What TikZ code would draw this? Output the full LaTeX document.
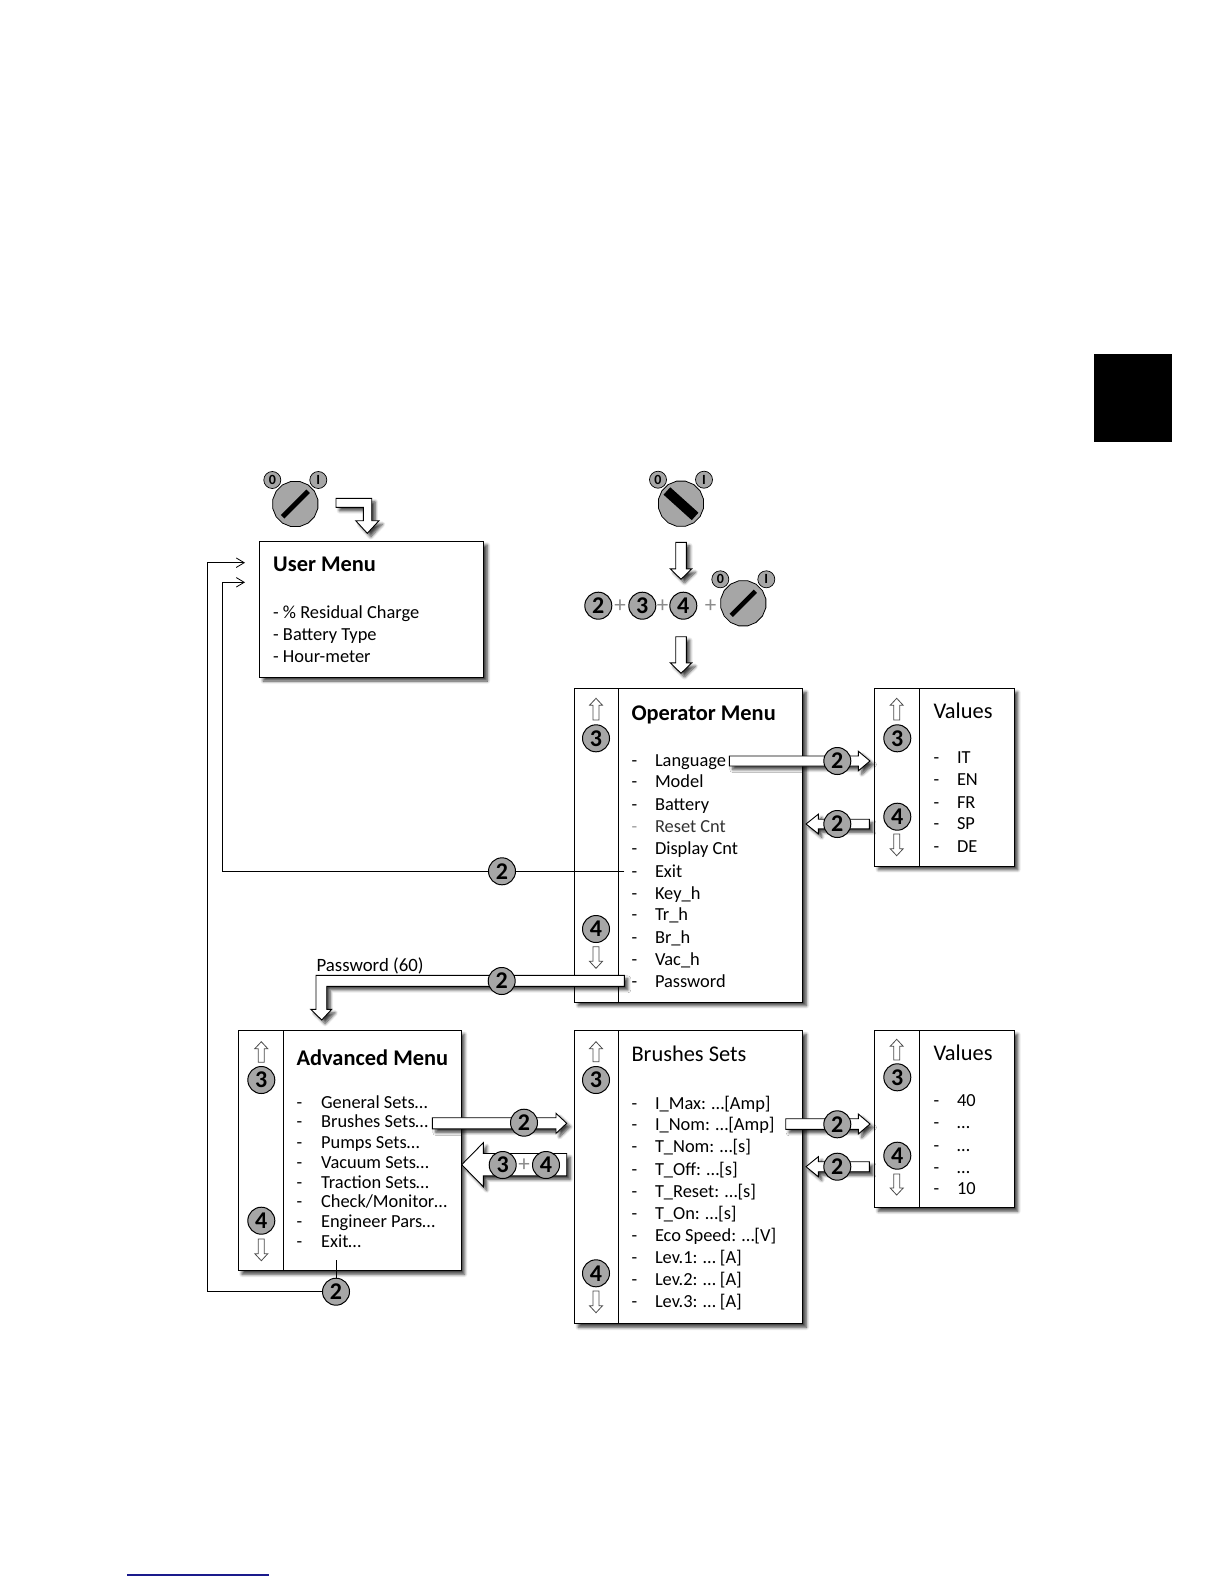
\documentclass[tikz,border=0pt]{standalone}
\usepackage{fontspec}
\setmainfont{Carlito}
\usepackage{xcolor}
\usetikzlibrary{calc, shapes.geometric, positioning, shadows, shadows.blur, arrows.meta}

\definecolor{btngray}{HTML}{A6A6A6}
\definecolor{linkblue}{HTML}{1A1A8C}

\tikzset{
    softshadow/.style={blur shadow={shadow xshift=3.5pt, shadow yshift=-3.5pt, shadow blur steps=6, shadow blur radius=3pt, shadow opacity=75}},
    menubox/.style={draw=black, line width=1pt, fill=white, anchor=north west, inner sep=0pt, softshadow},
    blockarrow/.style={draw=black, line width=0.9pt, fill=white, softshadow},
    markarrow/.style={draw=black!70, line width=0.8pt, fill=white},
    btn/.style={circle, draw=black, line width=1pt, fill=btngray, minimum size=27pt, inner sep=0pt, font=\fontsize{24}{24}\selectfont\bfseries},
    knob/.style={circle, draw=black, line width=0.7pt, fill=btngray, minimum size=17pt, inner sep=0pt, font=\fontsize{14}{14}\selectfont\bfseries},
    dial/.style={regular polygon, regular polygon sides=16, draw=black, line width=0.8pt, fill=btngray, minimum size=46pt, inner sep=0pt},
    plusmark/.style={inner sep=0pt, text=black!45, font=\fontsize{23}{23}\selectfont},
    headbold/.style={anchor=base west, inner sep=0pt, font=\fontsize{22.4}{22.4}\selectfont\bfseries},
    headplain/.style={anchor=base west, inner sep=0pt, font=\fontsize{22.4}{22.4}\selectfont},
    itemtext/.style={anchor=base west, inner sep=0pt, font=\fontsize{18.4}{18.4}\selectfont},
}

% voce di menu: trattino + testo
\newcommand{\itm}[1]{\makebox[23.5pt][l]{-}#1}
% lista di voci: prefisso, x, {y/testo,...}
\newcommand{\menuitems}[3]{\foreach \y/\t [count=\i] in {#3} \node[itemtext] (#1\i) at (#2,\y+6.1) {\t};}
% freccette di scorrimento: x, y alto, y basso
\newcommand{\upmark}[3]{\draw[markarrow] (#1-3,#3) -- (#1-3,#2+7) -- (#1-6.5,#2+7) -- (#1,#2) -- (#1+6.5,#2+7) -- (#1+3,#2+7) -- (#1+3,#3) -- cycle;}
\newcommand{\downmark}[3]{\draw[markarrow] (#1-3,#2) -- (#1-3,#3-7) -- (#1-6.5,#3-7) -- (#1,#3) -- (#1+6.5,#3-7) -- (#1+3,#3-7) -- (#1+3,#2) -- cycle;}
% freccia larga orizzontale: da, a, mezzo gambo, testa, mezza testa
\newcommand{\hblock}[5]{\draw[blockarrow] let \p1=(#1), \p2=(#2) in (\x1,\y1+#3pt) -- (\x2-#4pt,\y1+#3pt) -- (\x2-#4pt,\y1+#5pt) -- (\x2,\y1) -- (\x2-#4pt,\y1-#5pt) -- (\x2-#4pt,\y1-#3pt) -- (\x1,\y1-#3pt) -- cycle;}
% freccia larga verticale (verso il basso)
\newcommand{\vblock}[5]{\draw[blockarrow] let \p1=(#1), \p2=(#2) in (\x1-#3pt,\y1) -- (\x1-#3pt,\y2+#4pt) -- (\x1-#5pt,\y2+#4pt) -- (\x1,\y2) -- (\x1+#5pt,\y2+#4pt) -- (\x1+#3pt,\y2+#4pt) -- (\x1+#3pt,\y1) -- cycle;}
% chiave: nome, x, y, angolo, spessore, mezza lunghezza
\newcommand{\keydial}[6]{
    \node[dial] (#1) at (#2,#3) {};
    \node[knob] (#1off) at (#2-23,#3-24) {0};
    \node[knob] (#1on) at (#2+23,#3-24) {I};
    \draw[line width=#5pt, shift={(#1)}] (#4:#6) -- (#4+180:#6);
}

\begin{document}
\begin{tikzpicture}[x=1pt, y=-1pt, >={Straight Barb[length=8pt,width=9.5pt]}]
    \useasboundingbox (0,0) rectangle (1224,1584);
    % riquadro e riga a margine
    \fill[black] (1094,354) rectangle (1172,441.7);
    \draw[linkblue, line width=1.2pt] (127,1575) -- (269,1575);

    % User Menu
    \node[menubox, minimum width=224pt, minimum height=136pt] (user) at (259.3,541) {};
    \node[headbold] (userhead) at (273,571) {User Menu};
    \menuitems{useritem}{273}{612.7/{- \% Residual Charge}, 634.3/{- Battery Type}, 656/{- Hour-meter}}

    % Operator Menu
    \node[menubox, minimum width=228pt, minimum height=313.5pt] (oper) at (574.3,688.2) {};
    \draw[line width=1pt] ([xshift=44pt]oper.north west) -- ([xshift=44pt]oper.south west);
    \node[headbold] (operhead) at (631.3,720) {Operator Menu};
    \menuitems{operitem}{631.3}{760.7/\itm{Language}, 781.7/\itm{Model}, 804/\itm{Battery},
        826.7/{\makebox[23.5pt][l]{\textcolor{black!40}{-}}\textcolor{black!80}{Reset Cnt}}, 848.3/\itm{Display Cnt}, 871/\itm{Exit},
        893.3/\itm{Key\_h}, 914.3/\itm{Tr\_h}, 937.3/\itm{Br\_h}, 959.3/\itm{Vac\_h}, 981/\itm{Password}}

    % Values (Operator)
    \node[menubox, minimum width=139.5pt, minimum height=177.5pt] (vala) at (874.3,688.2) {};
    \draw[line width=1pt] ([xshift=45pt]vala.north west) -- ([xshift=45pt]vala.south west);
    \node[headplain] (valahead) at (933.3,718.3) {Values};
    \menuitems{valaitem}{933.3}{757.3/\itm{IT}, 779/\itm{EN}, 802/\itm{FR}, 823.7/\itm{SP}, 846/\itm{DE}}

    % Advanced Menu
    \node[menubox, minimum width=222.5pt, minimum height=240pt] (adv) at (238,1030.3) {};
    \draw[line width=1pt] ([xshift=45.3pt]adv.north west) -- ([xshift=45.3pt]adv.south west);
    \node[headbold] (advhead) at (296.4,1065.7) {Advanced Menu};
    \menuitems{advitem}{296.4}{1102.3/\itm{\hspace{1pt}General Sets…}, 1121.7/\itm{\hspace{1pt}Brushes Sets…}, 1142.3/\itm{\hspace{1pt}Pumps Sets…}, 1162/\itm{\hspace{1pt}Vacuum Sets…},
        1182.3/\itm{\hspace{1pt}Traction Sets…}, 1201.7/\itm{\hspace{1pt}Check/Monitor…}, 1221.3/\itm{\hspace{1pt}Engineer Pars…}, 1241.7/\itm{\hspace{1pt}Exit…}}

    % Brushes Sets
    \node[menubox, minimum width=228pt, minimum height=293pt] (brush) at (574.3,1030.3) {};
    \draw[line width=1pt] ([xshift=44pt]brush.north west) -- ([xshift=44pt]brush.south west);
    \node[headplain] (brushhead) at (631.3,1061.7) {Brushes Sets};
    \menuitems{brushitem}{631.3}{1103.3/\itm{I\_Max: …[Amp]}, 1124.3/\itm{I\_Nom: …[Amp]}, 1146.7/\itm{T\_Nom: …[s]}, 1169/\itm{T\_Off: …[s]},
        1191/\itm{T\_Reset: …[s]}, 1213.3/\itm{T\_On: …[s]}, 1235.7/\itm{Eco Speed: …[V]}, 1257.3/\itm{Lev.1: … [A]},
        1279.3/\itm{Lev.2: … [A]}, 1301.7/\itm{Lev.3: … [A]}}

    % Values (Brushes)
    \node[menubox, minimum width=139.5pt, minimum height=177pt] (valb) at (874.3,1030.3) {};
    \draw[line width=1pt] ([xshift=45pt]valb.north west) -- ([xshift=45pt]valb.south west);
    \node[headplain] (valbhead) at (933.3,1060.3) {Values};
    \menuitems{valbitem}{933.3}{1100/\itm{40}, 1122/\itm{…}, 1145/\itm{…}, 1167/\itm{…}, 1188.7/\itm{10}}

    % freccette di scorrimento
    \upmark{596}{698.3}{720} \downmark{596}{946.7}{968.3}
    \upmark{896.7}{698.3}{720} \downmark{896.7}{834}{855.7}
    \upmark{261.3}{1041.7}{1062.3} \downmark{261.3}{1239}{1260.7}
    \upmark{596}{1041.7}{1061.7} \downmark{596}{1291}{1312.7}
    \upmark{896.7}{1039.3}{1060} \downmark{896.7}{1174}{1195}

    % chiavi
    \keydial{keya}{295.3}{504}{-45}{5}{18}
    \keydial{keyb}{681}{503.7}{42}{10}{19}
    \keydial{keyc}{743.3}{603.3}{-45}{4.5}{17}

    % pulsanti combinazione
    \node[btn] (comb2) at (598.3,605.7) {2};
    \node[plusmark] (plusa) at (620,605.7) {+};
    \node[btn] (comb3) at (642.3,605.7) {3};
    \node[plusmark] (plusb) at (662.7,605.7) {+};
    \node[btn] (comb4) at (683.3,605.7) {4};
    \node[plusmark] (plusc) at (710.7,605.7) {+};

    % frecce larghe in alto
    \draw[blockarrow] (336,498.3) -- (371.7,498.3) -- (371.7,520.7) -- (379,520.7) -- (367.3,533.3)
        -- (355.7,520.7) -- (363.3,520.7) -- (363.3,507.3) -- (336,507.3) -- cycle;
    \coordinate (keybout) at (681,542.3);
    \coordinate (combin) at (681,579.3);
    \coordinate (combout) at (681,636.7);
    \coordinate (operin) at (681,673.3);
    \vblock{keybout}{combin}{5.3}{10.5}{10.8}
    \vblock{combout}{operin}{5.3}{10.5}{10.8}

    % linee di ritorno a User Menu
    \coordinate (userina) at (245,562.7);
    \coordinate (userinb) at (245,582.3);
    \coordinate (exitout) at (624.3,871.3);
    \coordinate (advout) at (336.3,1260);
    \coordinate (bendb) at (222.3,871.3);
    \coordinate (advbot) at (336.3,1291.7);
    \coordinate (benda) at (207.3,1291.7);
    \draw[->, line width=0.8pt] (exitout) -- (bendb) |- (userinb);
    \draw[->, line width=0.8pt] (advout) -- (advbot) -- (benda) |- (userina);
    \node[btn] (exitbtn) at (502,871.3) {2};
    \node[btn] (advexit) at (336,1291.7) {2};

    % Language -> Values
    \coordinate (langout) at (729.3,761);
    \coordinate (valain) at (870,761);
    \hblock{langout}{valain}{5}{11.7}{9.8}
    \node[btn] (langbtn) at (837.3,761) {2};
    \coordinate (valaout) at (869.3,824);
    \coordinate (operback) at (806,824);
    \hblock{valaout}{operback}{4.8}{-12.3}{9.8}
    \node[btn] (valabtn) at (837.3,824) {2};

    % Password -> Advanced Menu
    \draw[blockarrow] (624.3,975.3) -- (316,975.3) -- (316,1009.3) -- (310.7,1009.3) -- (321.7,1020)
        -- (331.7,1009.3) -- (326.7,1009.3) -- (326.7,986.3) -- (624.3,986.3) -- cycle;
    \node[itemtext, font=\fontsize{18.8}{18.8}\selectfont] (passlabel) at (316.4,971) {Password (60)};
    \node[btn] (passbtn) at (501.7,981) {2};

    % Advanced <-> Brushes
    \coordinate (advsetout) at (432.3,1123.3);
    \coordinate (brushin) at (566.7,1123.3);
    \hblock{advsetout}{brushin}{5.6}{10.7}{10}
    \node[btn] (advsetbtn) at (524,1122.7) {2};
    \coordinate (brushout) at (566.7,1164.7);
    \coordinate (advback) at (461.7,1164.7);
    \hblock{brushout}{advback}{11.2}{-21.6}{22}
    \node[btn] (back3) at (502.7,1165) {3};
    \node[plusmark] (plusd) at (524,1165) {+};
    \node[btn] (back4) at (546,1165) {4};

    % Brushes -> Values
    \coordinate (brushvalout) at (785.7,1124);
    \coordinate (valbin) at (870,1124);
    \hblock{brushvalout}{valbin}{5.3}{11.7}{10}
    \node[btn] (brushvalbtn) at (837.3,1124.3) {2};
    \coordinate (valbout) at (869.3,1166.7);
    \coordinate (brushback) at (806,1166.7);
    \hblock{valbout}{brushback}{5}{-12.3}{10}
    \node[btn] (valbbtn) at (837.3,1166.7) {2};

    % pulsanti 3 e 4 dei menu
    \node[btn] (oper3) at (596,738.3) {3};
    \node[btn] (oper4) at (596,929) {4};
    \node[btn] (vala3) at (897.3,738.3) {3};
    \node[btn] (vala4) at (897.3,816.7) {4};
    \node[btn] (adv3) at (261.3,1080) {3};
    \node[btn] (adv4) at (261.3,1220.7) {4};
    \node[btn] (brush3) at (596,1080) {3};
    \node[btn] (brush4) at (596,1273.3) {4};
    \node[btn] (valb3) at (897.3,1077.3) {3};
    \node[btn] (valb4) at (897.3,1155.7) {4};
\end{tikzpicture}
\end{document}
